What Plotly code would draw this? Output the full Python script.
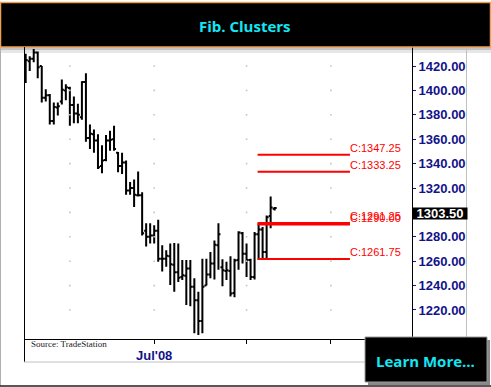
import plotly.graph_objects as go

# ---------------- data ----------------
bar_index = list(range(1, 64))
opens  = [1410, 1424, 1426, 1431, 1420, 1394, 1396, 1375, 1386, 1391, 1400, 1402, 1388, 1381, 1378,
          1407, 1361, 1364, 1359, 1338, 1343, 1359, 1360, 1349, 1338, 1341, 1318, 1320, 1314, 1314,
          1285, 1280, 1281, 1285, 1262, 1262, 1264, 1257, 1251, 1247, 1248, 1254, 1239, 1228, 1211,
          1240, 1249, 1258, 1273, 1255, 1252, 1252, 1234, 1261, 1283, 1266, 1261, 1247, 1282, 1286,
          1267.5, 1297, 1303]
highs  = [1430, 1428, 1434, 1432, 1420, 1401, 1397, 1390, 1390, 1409, 1405, 1403, 1395, 1389, 1407.5,
          1414, 1372, 1368, 1364, 1355, 1363.5, 1367, 1371, 1349.5, 1349, 1342.5, 1325, 1327, 1333.5, 1316.5,
          1291, 1291, 1289.5, 1294, 1273, 1269, 1274.5, 1275, 1274.5, 1261, 1261, 1261, 1246, 1235, 1262,
          1262, 1267.5, 1277, 1291, 1261.5, 1259.5, 1264, 1262, 1284.5, 1284, 1274.5, 1262, 1284, 1291, 1288,
          1297.5, 1313, 1304.5]
lows   = [1406, 1416, 1423, 1410, 1390, 1391, 1372, 1372, 1379.5, 1388.5, 1392, 1371, 1373, 1373, 1376,
          1358, 1352, 1349, 1335.5, 1332, 1342, 1350.5, 1350.5, 1333, 1331.5, 1314.5, 1314.5, 1304.5, 1313, 1281,
          1272, 1274.5, 1274.5, 1259.5, 1251.5, 1255.5, 1240.5, 1235, 1243, 1244.5, 1224, 1223, 1201, 1199.5, 1201,
          1240, 1246, 1245, 1253, 1239.5, 1244.5, 1231, 1230.5, 1253, 1258, 1247, 1244.5, 1245, 1261, 1261,
          1261, 1287, 1301.5]
closes = [1425, 1426, 1431, 1419, 1394, 1396, 1375, 1386.5, 1387, 1400.5, 1402.5, 1388, 1381, 1380, 1407,
          1361, 1364.5, 1359, 1337, 1342.5, 1359, 1359.5, 1352, 1338, 1341, 1318, 1320, 1314.5, 1314, 1283,
          1280, 1281, 1285, 1262, 1262, 1264.5, 1257.5, 1251, 1246.5, 1248.5, 1254, 1239, 1228, 1211, 1239,
          1249, 1258, 1273.5, 1282, 1252.5, 1252.5, 1233.5, 1260.5, 1283.5, 1266, 1261, 1247, 1282, 1286, 1267.5,
          1296, 1304, 1303.5]

last_price = 1303.50
fib_levels = [1347.25, 1333.25, 1291.25, 1290.00, 1261.75]
fib_start, fib_end = 58.75, 81.75

y_ticks = [1220, 1240, 1260, 1280, 1300, 1320, 1340, 1360, 1380, 1400, 1420]
y_tick_labels = ["%.2f" % v if v != 1300 else "" for v in y_ticks]
month_idx = [12, 33, 56, 77]          # Jun, Jul, Aug, Sep first bars
x_tick_vals = [33, 56, 77]
x_tick_text = ["Jul'08", "", ""]

# ---------------- layout constants ----------------
W, H = 491, 387
L, R, T, B = 24, 79, 47, 48
X_RANGE = [0.58, 97.2]
Y_RANGE = [1196.2, 1435.6]
plot_w = W - L - R
plot_h = H - T - B

def px(x):   # pixel x -> paper
    return (x - L) / plot_w

def py(y):   # pixel y -> paper
    return (H - B - y) / plot_h

NAVY = "#12128a"
CYAN = "#14e6f4"

fig = go.Figure()

# grid dots at intersections
gx, gy = [], []
for m in month_idx:
    for v in y_ticks:
        gx.append(m)
        gy.append(v)
fig.add_trace(go.Scatter(x=gx, y=gy, mode="markers",
                         marker=dict(size=1.6, color="#c4c4c4", symbol="square"),
                         hoverinfo="skip", showlegend=False))

# fib lines
for lvl in fib_levels:
    fig.add_trace(go.Scatter(x=[fib_start, fib_end], y=[lvl, lvl], mode="lines",
                             line=dict(color="#ff0000", width=2),
                             hoverinfo="skip", showlegend=False))

fig.add_trace(go.Ohlc(x=bar_index, open=opens, high=highs, low=lows, close=closes,
                      increasing=dict(line=dict(color="black", width=2)),
                      decreasing=dict(line=dict(color="black", width=2)),
                      tickwidth=0.5, showlegend=False))

annotations = []
for lvl in fib_levels:
    annotations.append(dict(x=fib_end, y=lvl, xref="x", yref="y", text="C:%.2f" % lvl,
                            showarrow=False, xanchor="left", yanchor="bottom",
                            xshift=-2, yshift=-1,
                            font=dict(family="Liberation Sans", size=11, color="#ff0000")))

annotations.append(dict(x=1, y=last_price, xref="paper", yref="y", text="<b>%.2f</b>" % last_price,
                        showarrow=False, xanchor="left", yanchor="top", bgcolor="black",
                        width=54, height=11, borderpad=0, yshift=1,
                        font=dict(family="Liberation Sans", size=13, color="white")))

annotations.append(dict(x=px(245), y=py(25.5), xref="paper", yref="paper", text="<b>Fib. Clusters</b>",
                        showarrow=False, xanchor="center", yanchor="middle",
                        font=dict(family="Open Sans", size=15, color=CYAN)))

annotations.append(dict(x=px(29), y=py(344), xref="paper", yref="paper", text="Source: TradeStation",
                        showarrow=False, xanchor="left", yanchor="middle",
                        font=dict(family="Liberation Serif", size=9, color="#222222")))

annotations.append(dict(x=px(425), y=py(361), xref="paper", yref="paper", text="<b>Learn More...</b>",
                        showarrow=False, xanchor="center", yanchor="middle",
                        font=dict(family="Open Sans", size=15, color=CYAN)))

shapes = []
# title shadow
shapes.append(dict(type="rect", xref="paper", yref="paper", x0=px(0), x1=px(491), y0=py(50), y1=py(47),
                   fillcolor="#c4c4c4", line=dict(width=0), layer="below"))
shapes.append(dict(type="rect", xref="paper", yref="paper", x0=px(0), x1=px(491), y0=py(53), y1=py(50),
                   fillcolor="#e6e6e6", line=dict(width=0), layer="below"))
# title bar
shapes.append(dict(type="rect", xref="paper", yref="paper", x0=px(0.5), x1=px(490.5), y0=py(47), y1=py(2.5),
                   fillcolor="black", line=dict(color="#eea050", width=1.5)))
# chart frame lines
shapes.append(dict(type="line", xref="paper", yref="paper", x0=px(24.5), x1=px(24.5), y0=py(362), y1=py(47),
                   line=dict(color="black", width=1)))
shapes.append(dict(type="line", xref="paper", yref="paper", x0=px(24), x1=px(467), y0=py(362), y1=py(362),
                   line=dict(color="#c0c0c0", width=1)))
shapes.append(dict(type="line", xref="paper", yref="paper", x0=px(466.5), x1=px(466.5), y0=py(362), y1=py(47),
                   line=dict(color="#c0c0c0", width=1)))
# outer border
shapes.append(dict(type="line", xref="paper", yref="paper", x0=px(0.5), x1=px(0.5), y0=py(386), y1=py(47),
                   line=dict(color="#b0b0b0", width=1)))
shapes.append(dict(type="line", xref="paper", yref="paper", x0=px(0), x1=px(491), y0=py(386), y1=py(386),
                   line=dict(color="#202020", width=1.5)))
# Learn More box with shadow
shapes.append(dict(type="rect", xref="paper", yref="paper", x0=px(368), x1=px(490), y0=py(385), y1=py(340),
                   fillcolor="#888888", line=dict(width=0)))
shapes.append(dict(type="rect", xref="paper", yref="paper", x0=px(365), x1=px(487), y0=py(382), y1=py(337),
                   fillcolor="black", line=dict(color="#9a9a9a", width=1)))

fig.update_layout(
    width=W, height=H,
    margin=dict(l=L, r=R, t=T, b=B, pad=0),
    paper_bgcolor="white", plot_bgcolor="white",
    showlegend=False,
    annotations=annotations,
    shapes=shapes,
    xaxis=dict(range=X_RANGE, showgrid=False, zeroline=False, rangeslider=dict(visible=False),
               tickmode="array", tickvals=x_tick_vals, ticktext=x_tick_text,
               ticks="outside", ticklen=4, tickcolor="black",
               showline=True, linecolor="black", linewidth=1,
               tickfont=dict(family="Liberation Sans", size=13, color=NAVY, weight="bold")),
    yaxis=dict(range=Y_RANGE, side="right", showgrid=False, zeroline=False,
               tickmode="array", tickvals=y_ticks, ticktext=y_tick_labels,
               ticks="outside", ticklen=3, tickcolor=NAVY,
               showline=True, linecolor="black", linewidth=1,
               tickfont=dict(family="Liberation Sans", size=13, color=NAVY, weight="bold")),
)

fig.write_html("out.html", config={"displayModeBar": False},
               post_script="document.body.style.margin='0';document.body.style.overflow='hidden';")
